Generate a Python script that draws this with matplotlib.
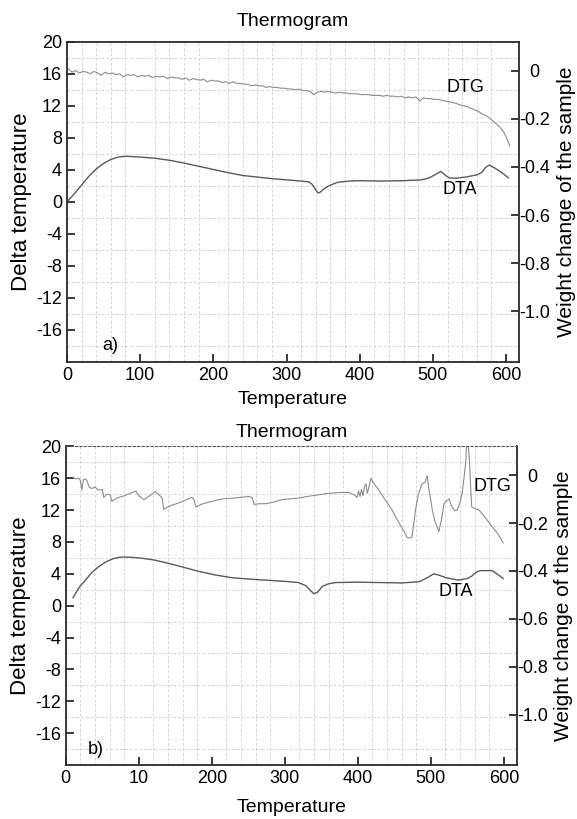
import matplotlib
matplotlib.use("Agg")
import matplotlib.pyplot as plt
import numpy as np

plt.rcParams['font.family'] = ['Liberation Sans', 'DejaVu Sans']
plt.rcParams['axes.unicode_minus'] = False

# ---- panel a ----
temp_a_dtg = list(np.arange(2, 603, 5)) + [605]
dtg_a = [16.6, 16.2, 16.4, 16.1, 16.3, 16.2, 16.0, 16.3, 16.1, 15.8,
         16.2, 16.0, 16.1, 15.9, 16.0, 15.6, 15.9, 15.8, 15.9, 15.6,
         15.8, 15.7, 15.8, 15.5, 15.7, 15.6, 15.7, 15.4, 15.6, 15.5,
         15.5, 15.3, 15.5, 15.2, 15.4, 15.3, 15.2, 15.3, 15.0, 15.2,
         15.1, 15.1, 14.9, 15.0, 14.8, 15.0, 14.8, 14.8, 14.7, 14.7,
         14.5, 14.6, 14.5, 14.5, 14.3, 14.4, 14.3, 14.3, 14.2, 14.2,
         14.1, 14.1, 14.0, 14.1, 13.9, 13.9, 13.8, 13.4, 13.7, 13.8,
         13.7, 13.8, 13.7, 13.6, 13.7, 13.6, 13.6, 13.5, 13.5, 13.5,
         13.4, 13.4, 13.4, 13.3, 13.3, 13.3, 13.2, 13.3, 13.2, 13.2,
         13.1, 13.2, 13.0, 13.1, 13.0, 13.1, 12.6, 13.0, 12.9, 12.9,
         12.8, 12.8, 12.7, 12.6, 12.5, 12.4, 12.3, 12.1, 12.0, 11.9,
         11.7, 11.5, 11.3, 11.0, 10.8, 10.5, 10.1, 9.7, 9.3, 8.7,
         7.7, 7.0]

temp_a_dta = [0, 10, 20, 30, 40, 50, 60, 70, 80, 90, 100, 120, 140, 160, 180,
              200, 220, 240, 260, 280, 300, 320, 330, 335, 340, 343, 346, 352,
              360, 370, 385, 400, 430, 460, 484, 495, 505, 511, 516, 522, 530,
              545, 561, 567, 572, 577, 585, 595, 603]
dta_a = [0.0, 1.0, 2.1, 3.2, 4.1, 4.8, 5.3, 5.6, 5.7, 5.65, 5.6, 5.45, 5.2, 4.85,
         4.45, 4.05, 3.65, 3.3, 3.1, 2.9, 2.75, 2.6, 2.5, 2.2, 1.5, 1.1, 1.2, 1.7,
         2.1, 2.45, 2.6, 2.65, 2.6, 2.65, 2.75, 3.0, 3.5, 3.8, 3.4, 3.0, 2.95,
         3.1, 3.4, 3.7, 4.3, 4.6, 4.2, 3.6, 3.0]

# ---- panel b ----
temp_b_dtg = [10, 14, 18, 20, 22, 24, 27, 29, 32, 36, 40, 45, 50, 52, 56, 61, 63,
              70, 80, 91, 96, 100, 107, 115, 123, 128, 132, 134, 140, 145, 155,
              165, 173, 176, 178, 185, 192, 205, 215, 228, 240, 250, 255, 258,
              265, 274, 285, 295, 305, 319, 330, 345, 360, 375, 388, 395, 399,
              401, 403, 405, 407, 409, 411, 413, 416, 418, 422, 429, 435, 441,
              447, 452, 457, 460, 463, 467, 471, 474, 477, 479, 483, 488, 492,
              495, 497, 500, 502, 506, 511, 515, 518, 522, 525, 529, 533, 536,
              540, 543, 546, 548, 549, 551, 553, 555, 556, 560, 566, 575, 584,
              592, 599]
dtg_b = [16.1, 15.9, 16.0, 15.7, 14.5, 15.8, 15.9, 15.7, 14.9, 14.7, 14.9, 14.5,
         14.6, 13.6, 14.0, 13.9, 13.1, 13.5, 13.8, 14.2, 14.4, 13.8, 13.3, 13.8,
         14.3, 13.9, 13.5, 12.1, 12.4, 12.6, 12.9, 13.3, 13.6, 13.2, 12.4, 12.7,
         12.9, 13.2, 13.4, 13.5, 13.6, 13.7, 13.6, 12.7, 12.8, 12.8, 13.0, 13.3,
         13.4, 13.5, 13.7, 13.9, 14.1, 14.2, 14.2, 13.9, 13.6, 14.4, 13.7, 14.6,
         13.8, 14.9, 15.3, 14.1, 15.2, 16.0, 15.3, 14.5, 13.6, 12.8, 12.0, 11.1,
         10.3, 9.8, 9.4, 8.6, 8.5, 8.6, 10.5, 12.0, 14.0, 15.3, 15.5, 16.3, 14.8,
         13.2, 12.0, 10.5, 9.3, 11.0, 12.8, 13.2, 13.4, 12.4, 11.9, 12.0, 13.0,
         14.2, 16.5, 18.3, 20.5, 20.5, 18.0, 14.0, 12.4, 12.2, 12.0, 11.0, 9.9,
         9.0, 7.9]

temp_b_dta = [10, 15, 20, 27, 35, 45, 55, 65, 75, 85, 100, 120, 137, 160, 182,
              205, 228, 250, 274, 300, 319, 329, 335, 340, 345, 351, 360, 370,
              400, 430, 460, 484, 495, 504, 512, 521, 538, 550, 556, 562, 568,
              584, 592, 599]
dta_b = [1.0, 1.8, 2.5, 3.2, 4.1, 4.9, 5.5, 5.9, 6.1, 6.1, 6.0, 5.75, 5.4, 4.85,
         4.3, 3.85, 3.5, 3.35, 3.2, 3.05, 2.9, 2.5, 1.9, 1.5, 1.7, 2.4, 2.75, 2.9,
         2.95, 2.9, 2.85, 3.0, 3.5, 4.0, 3.8, 3.5, 3.2, 3.4, 3.7, 4.2, 4.4, 4.4,
         3.9, 3.4]

x_ticks = [0, 100, 200, 300, 400, 500, 600]
x_labels_a = ['0', '100', '200', '300', '400', '500', '600']
x_labels_b = ['0', '10', '200', '300', '400', '500', '600']
y_ticks = [20, 16, 12, 8, 4, 0, -4, -8, -12, -16]
w_ticks = [0, -0.2, -0.4, -0.6, -0.8, -1.0]
w_labels = ['0', '-0.2', '-0.4', '-0.6', '-0.8', '-1.0']

dtg_col = '#8c8c8c'
dta_col = '#5a5a5a'
spine_col = '#2a2a2a'
fs = 13


def make_panel(rect, temp_dtg, dtg, temp_dta, dta, xlabels, tag, tagpos,
               dtg_pos, dta_pos, title_pad, xlab_pad, dotted_top):
    ax = fig.add_axes(rect)
    ax.set_xlim(0, 618)
    ax.set_ylim(-20, 20)
    ax.set_xticks(x_ticks)
    ax.set_xticklabels(xlabels)
    ax.set_yticks(y_ticks)
    ax.set_xticks(np.arange(0, 620, 20), minor=True)
    ax.set_yticks(np.arange(-20, 21, 2), minor=True)
    ax.grid(which='minor', color='#d6d6d6', linestyle=(0, (3, 2)), linewidth=0.7)
    ax.tick_params(which='major', direction='in', length=6, width=1.3,
                   colors=spine_col, labelsize=fs, labelcolor='black',
                   top=False, right=False)
    ax.tick_params(which='minor', length=0)
    for s in ax.spines.values():
        s.set_color(spine_col)
        s.set_linewidth(1.3)
    if dotted_top:
        ax.spines['top'].set_linestyle((0, (2, 2)))
        ax.spines['top'].set_linewidth(0.8)
        ax.spines['top'].set_color('#555555')

    ax.plot(temp_dtg, dtg, color=dtg_col, linewidth=0.8)
    ax.plot(temp_dta, dta, color=dta_col, linewidth=1.0)

    ax.text(dtg_pos[0], dtg_pos[1], 'DTG', fontsize=fs, ha='center', va='center')
    ax.text(dta_pos[0], dta_pos[1], 'DTA', fontsize=fs, ha='center', va='center')
    ax.text(tagpos[0], tagpos[1], tag, fontsize=fs, ha='center', va='center')

    ax.set_title('Thermogram', fontsize=14, pad=title_pad)
    ax.set_xlabel('Temperature', fontsize=14, labelpad=xlab_pad)
    ax.set_ylabel('Delta temperature', fontsize=16)
    ax.yaxis.set_label_coords(-0.078, 0.5)

    ax2 = ax.twinx()
    ax2.set_ylim(-1.21, 0.12)
    ax2.set_yticks(w_ticks)
    ax2.set_yticklabels(w_labels)
    ax2.tick_params(direction='in', length=6, width=1.3, colors=spine_col,
                    labelsize=fs, labelcolor='black', pad=11)
    for lbl in ax2.get_yticklabels():
        lbl.set_horizontalalignment('center')
    for s in ax2.spines.values():
        s.set_visible(False)
    ax2.set_ylabel('Weight change of the sample', fontsize=15)
    ax2.yaxis.set_label_coords(1.083, 0.5)
    return ax


fig = plt.figure(figsize=(5.77, 8.19), dpi=100)
fig.set_facecolor('white')

make_panel([0.116, 0.558, 0.784, 0.391], temp_a_dtg, dtg_a, temp_a_dta, dta_a,
           x_labels_a, 'a)', (59, -17.9), (545, 14.3), (537, 1.5), 11, 5, False)
make_panel([0.114, 0.066, 0.782, 0.389], temp_b_dtg, dtg_b, temp_b_dta, dta_b,
           x_labels_b, 'b)', (41, -18), (585, 15), (534, 1.75), 7, 9, True)

fig.savefig('out.png', dpi=100)
